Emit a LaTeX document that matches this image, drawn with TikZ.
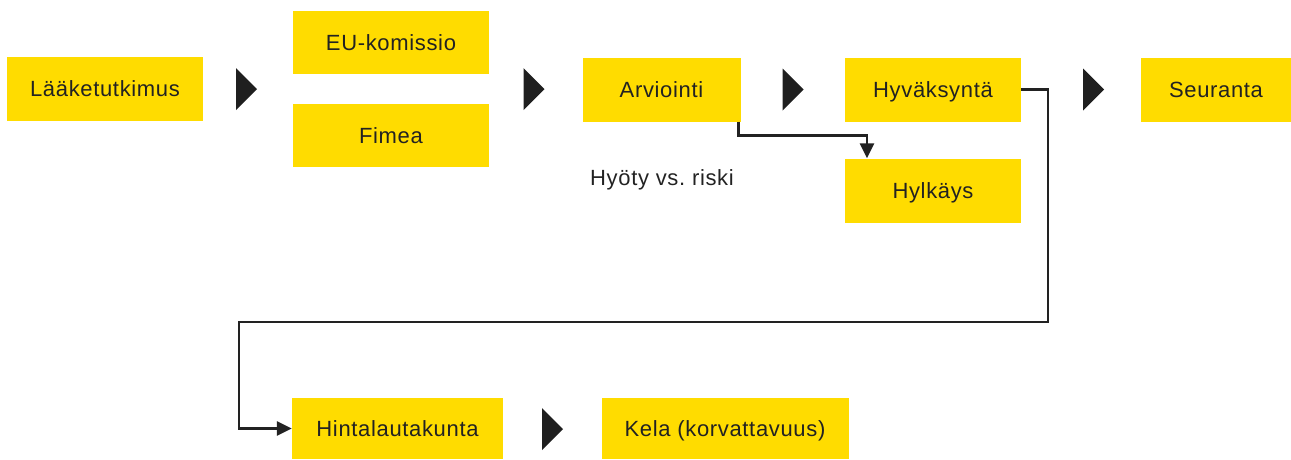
\documentclass[tikz,border=0pt]{standalone}
\usepackage{fontspec}
\setmainfont[LetterSpace=3]{Liberation Sans}
\usetikzlibrary{arrows.meta}
\definecolor{yel}{HTML}{FFDC00}
\definecolor{ink}{HTML}{222222}
\definecolor{tri}{HTML}{1F1F1F}
\tikzset{
  box/.style={fill=yel, inner sep=0pt, text=ink, font=\fontsize{22}{26}\selectfont,
    text height=15.8pt, text depth=0pt},
  conn/.style={draw=ink, line width=2.5pt},
  tip/.style={-{Triangle[length=15pt,width=14pt]}},
  plain/.style={text=ink, font=\fontsize{22}{26}\selectfont, inner sep=0pt},
  tripic/.pic={\fill[tri] (-10.5,-21) -- (10.5,0) -- (-10.5,21) -- cycle;}
}
\begin{document}
\begin{tikzpicture}[x=1pt,y=-1pt]
\useasboundingbox (0,0) rectangle (1291,459);
% boxes
\node[box, minimum width=196pt, minimum height=64pt] (lt) at (105,89) {Lääketutkimus};
\node[box, minimum width=196pt, minimum height=63pt] (eu) at (391,42.5) {EU-komissio};
\node[box, minimum width=196pt, minimum height=63pt] (fi) at (391,135.5) {Fimea};
\node[box, minimum width=158pt, minimum height=64pt] (ar) at (661.5,89.5) {Arviointi};
\node[box, minimum width=176pt, minimum height=64pt] (hy) at (933,89.5) {Hyväksyntä};
\node[box, minimum width=150pt, minimum height=64pt] (se) at (1216,89.5) {Seuranta};
\node[box, minimum width=176pt, minimum height=64pt] (hk) at (933,190.5) {Hylkäys};
\node[box, minimum width=211pt, minimum height=61pt] (hi) at (397.5,428.5) {Hintalautakunta};
\node[box, minimum width=247pt, minimum height=61pt] (ke) at (725,428.5) {Kela (korvattavuus)};
\node[plain, anchor=base] (hr) at (662,185) {Hyöty vs.\ riski};
% triangles
\pic at (246.5,89) {tripic};
\pic at (534,89) {tripic};
\pic at (793,89.5) {tripic};
\pic at (1093.5,89.5) {tripic};
\pic at (552.5,429) {tripic};
% connectors
\coordinate (c1) at (1048,322);
\coordinate (c2) at (239,322);
\draw[conn, tip] ([xshift=-2pt]ar.south east) -- ++(0,14) -| ([xshift=-66pt]hk.north);
\draw[conn, tip] (hy.east) -| (c1) -- (c2) |- (hi.west);
\end{tikzpicture}
\end{document}
